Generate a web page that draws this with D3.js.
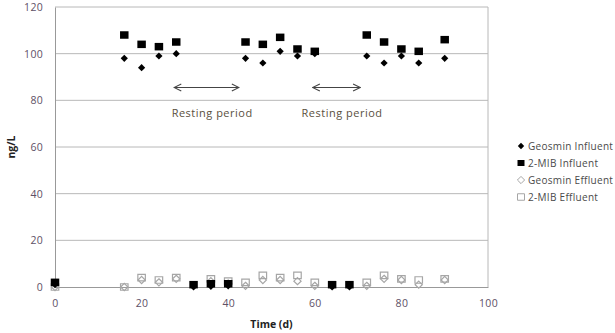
<!DOCTYPE html>
<html>
<head>
<meta charset="utf-8">
<script src="https://cdn.jsdelivr.net/npm/d3@7"></script>
<style>
  body { margin: 0; background: #fff; }
  text { font-family: "Open Sans", sans-serif; }
</style>
</head>
<body>
<script>
// values
const days = [0, 16, 20, 24, 28, 32, 36, 40, 44, 48, 52, 56, 60, 64, 68, 72, 76, 80, 84, 90];
const geosminInfluent = [1, 98, 94, 99, 100, 0, 0.3, 0.5, 98, 96, 101, 99, 100, 0, 0, 99, 96, 99, 96, 98];
const mibInfluent = [2, 108, 104, 103, 105, 1, 1.4, 1.4, 105, 104, 107, 102, 101, 1, 1, 108, 105, 102, 101, 106];
const geosminEffluent = [0, 0, 3, 2, 3.5, null, 2.5, 1.5, 0.5, 3, 3, 2.5, 0.5, null, null, 0.5, 3.5, 3, 1, 3];
const mibEffluent = [0, 0, 4, 3, 4, null, 3.5, 2.5, 2, 5, 4, 5, 2, null, null, 2, 5, 3.5, 3, 3.5];
const xTicks = [0, 20, 40, 60, 80, 100];
const yTicks = [0, 20, 40, 60, 80, 100, 120];
const restingPeriods = [[28, 44], [60, 72]];
const seriesNames = ['Geosmin Influent', '2-MIB Influent', 'Geosmin Effluent', '2-MIB Effluent'];

const W = 615, H = 333;
const margin = { left: 55, right: 127, top: 7, bottom: 46 };
const innerW = W - margin.left - margin.right;
const innerH = H - margin.top - margin.bottom;

const svg = d3.select('body').append('svg')
    .attr('width', W)
    .attr('height', H);

const x = d3.scaleLinear().domain([0, 100]).range([0, innerW]);
const y = d3.scaleLinear().domain([0, 120]).range([innerH, 0]);

const canvas = svg.append('g')
    .attr('transform', `translate(${margin.left},${margin.top})`);

// gridlines + frame
canvas.selectAll('.grid').data(yTicks.slice(1))
    .enter().append('line')
    .attr('x1', 0).attr('x2', innerW)
    .attr('y1', d => y(d)).attr('y2', d => y(d))
    .attr('stroke', '#b8b8b8').attr('stroke-width', 1);
canvas.append('line')
    .attr('x1', innerW).attr('x2', innerW).attr('y1', 0).attr('y2', innerH)
    .attr('stroke', '#b8b8b8');

const xAxis = d3.axisBottom(x).tickValues(xTicks).tickSize(0).tickPadding(13);
const yAxis = d3.axisLeft(y).tickValues(yTicks).tickSize(0).tickPadding(12);

const xg = canvas.append('g').attr('transform', `translate(0,${innerH})`).call(xAxis);
const yg = canvas.append('g').call(yAxis);
[xg, yg].forEach(g => {
    g.select('.domain').attr('stroke', '#999');
    g.selectAll('text').attr('fill', '#5e5066').style('font-size', '10.5px').style('letter-spacing', '0.3px');
});

canvas.append('text')
    .attr('x', x(50))
    .attr('y', innerH + 41)
    .attr('text-anchor', 'middle')
    .style('font-size', '10.5px')
    .style('font-weight', 'bold')
    .attr('fill', '#222')
    .text('Time (d)');

svg.append('text')
    .attr('transform', `translate(15,${margin.top + y(60)}) rotate(-90)`)
    .attr('text-anchor', 'middle')
    .style('font-size', '10.5px')
    .style('font-weight', 'bold')
    .attr('fill', '#222')
    .text('ng/L');

// resting period annotations
svg.append('defs').append('marker')
    .attr('id', 'head')
    .attr('viewBox', '0 0 10 10')
    .attr('refX', 9).attr('refY', 5)
    .attr('markerWidth', 9).attr('markerHeight', 9)
    .attr('markerUnits', 'userSpaceOnUse')
    .attr('orient', 'auto-start-reverse')
    .append('path')
    .attr('d', 'M1,1 L9,5 L1,9')
    .attr('fill', 'none')
    .attr('stroke', '#444')
    .attr('stroke-width', 1.2);

restingPeriods.forEach(p => {
    canvas.append('line')
        .attr('x1', x(p[0] - 0.5)).attr('x2', x(p[1] - 1.5))
        .attr('y1', y(85.5)).attr('y2', y(85.5))
        .attr('stroke', '#444').attr('stroke-width', 1)
        .attr('marker-start', 'url(#head)')
        .attr('marker-end', 'url(#head)');
    canvas.append('text')
        .attr('x', x((p[0] + p[1]) / 2 + 0.3))
        .attr('y', y(73))
        .attr('text-anchor', 'middle')
        .style('font-size', '11px')
        .style('letter-spacing', '0.5px')
        .attr('fill', '#5a5040')
        .text('Resting period');
});

// diamond as a rotated square, half-diagonal r
const diamond = r => `M0,${-r}L${r},0L0,${r}L${-r},0Z`;
const square = (w, h) => `M${-w / 2},${-h / 2}h${w}v${h}h${-w}Z`;
const styles = [
    { vals: geosminInfluent, sym: diamond(3.6), leg: diamond(3.2), fill: '#000', stroke: 'none' },
    { vals: mibInfluent, sym: square(8.5, 7.5), leg: square(7, 6), fill: '#000', stroke: 'none' },
    { vals: geosminEffluent, sym: diamond(3.6), leg: diamond(3.6), fill: 'none', stroke: '#a6a6a6' },
    { vals: mibEffluent, sym: square(7.5, 6.5), leg: square(7, 6.5), fill: 'none', stroke: '#a6a6a6' }
];

// effluent drawn first, influent on top
[2, 3, 0, 1].forEach(i => {
    const s = styles[i];
    const pts = days.map((d, j) => ({ d, v: s.vals[j] })).filter(p => p.v !== null);
    canvas.append('g').selectAll('path').data(pts)
        .enter().append('path')
        .attr('d', s.sym)
        .attr('transform', p => `translate(${x(p.d)},${y(p.v)})`)
        .attr('fill', s.fill)
        .attr('stroke', s.stroke)
        .attr('stroke-width', 1.2);
});

// legend
const legend = svg.append('g').attr('transform', 'translate(521,146)');
seriesNames.forEach((name, i) => {
    const s = styles[i];
    const g = legend.append('g').attr('transform', `translate(0,${i * 17})`);
    g.append('path')
        .attr('d', s.leg)
        .attr('fill', s.fill)
        .attr('stroke', s.stroke)
        .attr('stroke-width', 1);
    g.append('text')
        .attr('x', 7)
        .attr('y', 3.5)
        .style('font-size', '10px')
        .style('letter-spacing', '0.3px')
        .attr('fill', '#4a4a4a')
        .text(name);
});
</script>
</body>
</html>
